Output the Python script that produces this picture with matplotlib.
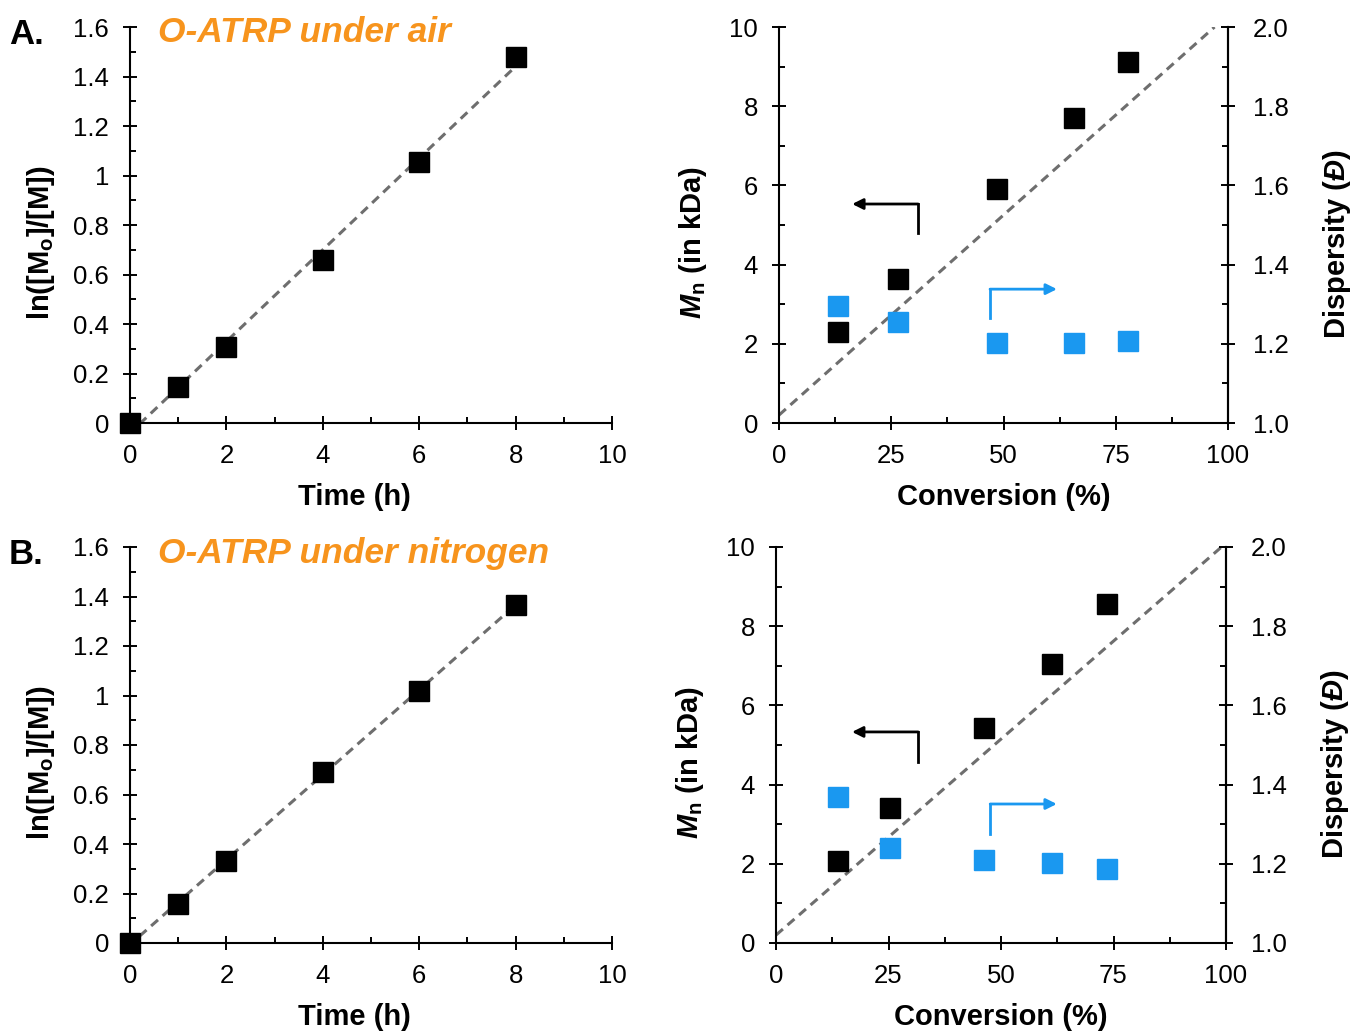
import numpy as np
import matplotlib
matplotlib.use("Agg")
import matplotlib.pyplot as plt
from matplotlib.ticker import MultipleLocator, FormatStrFormatter, FuncFormatter

plt.rcParams['font.family'] = ['Liberation Sans', 'DejaVu Sans']
plt.rcParams['mathtext.fontset'] = 'custom'
plt.rcParams['mathtext.rm'] = 'Liberation Sans'
plt.rcParams['mathtext.it'] = 'Liberation Sans:italic'
plt.rcParams['mathtext.bf'] = 'Liberation Sans:bold'
plt.rcParams['mathtext.bfit'] = 'Liberation Sans:bold:italic'

# ---------------- data ----------------
time_h = [0, 1, 2, 4, 6, 8]
ln_air = [0.0, 0.145, 0.307, 0.658, 1.054, 1.479]
ln_n2 = [0.0, 0.158, 0.331, 0.691, 1.018, 1.366]

conv_air = [13.1, 26.5, 48.6, 65.7, 77.7]
mn_air = [2.30, 3.64, 5.91, 7.70, 9.12]
disp_air = [1.295, 1.255, 1.202, 1.202, 1.207]

conv_n2 = [13.8, 25.3, 46.2, 61.3, 73.6]
mn_n2 = [2.07, 3.41, 5.43, 7.05, 8.56]
disp_n2 = [1.369, 1.240, 1.210, 1.202, 1.187]

theo_conv_air = [0, 97]
theo_mn_air = [0.2, 10.0]
theo_conv_n2 = [0, 99]
theo_mn_n2 = [0.2, 10.0]

titles = ["O-ATRP under air", "O-ATRP under nitrogen"]
letters = ["A.", "B."]

BLUE = '#1a98f0'
ORANGE = '#f7941d'
GRAY = '#6e6e6e'

TICK_FS = 18.5
LABEL_FS = 21

W, H = 1355, 1034
fig = plt.figure(figsize=(W / 100, H / 100), dpi=100)


def fr(x0, y0, x1, y1):
    return [x0 / W, 1 - y1 / H, (x1 - x0) / W, (y1 - y0) / H]


def style_ticks(ax):
    ax.tick_params(axis='both', which='major', direction='inout', length=10,
                   width=1.4, labelsize=TICK_FS, pad=10, color='black')
    ax.tick_params(axis='both', which='minor', direction='in', length=4.5,
                   width=1.4, color='black')
    for s in ax.spines.values():
        s.set_linewidth(1.5)


def kinetics(rect, t, y, title, letter, title_y):
    ax = fig.add_axes(fr(*rect))
    coef = np.polyfit(t, y, 1)
    xf = np.array([0.2, 8.0])
    ax.plot(xf, np.polyval(coef, xf), ls=(0, (3, 2)), color=GRAY, lw=2.2, zorder=1)
    ax.plot(t, y, 's', color='black', ms=14, clip_on=False, zorder=3)
    ax.set_xlim(0, 10)
    ax.set_ylim(0, 1.6)
    ax.xaxis.set_major_locator(MultipleLocator(2))
    ax.xaxis.set_minor_locator(MultipleLocator(1))
    ax.yaxis.set_major_locator(MultipleLocator(0.2))
    ax.yaxis.set_minor_locator(MultipleLocator(0.1))
    ax.yaxis.set_major_formatter(FuncFormatter(lambda v, p: ('%g' % round(v, 2))))
    ax.spines['top'].set_visible(False)
    ax.spines['right'].set_visible(False)
    style_ticks(ax)
    ax.set_xlabel('Time (h)', fontsize=LABEL_FS, fontweight='bold')
    ax.set_ylabel(r'ln([M$_\mathbf{o}$]/[M])', fontsize=LABEL_FS, fontweight='bold')
    ax.xaxis.set_label_coords(0.465, -0.152)
    ax.yaxis.set_label_coords(-0.152, 0.455)
    fig.text(158 / W, 1 - title_y / H, title, fontsize=25.5, fontweight='bold',
             style='italic', color=ORANGE, va='center', ha='left')
    fig.text(9 / W, 1 - (title_y + 2) / H, letter, fontsize=25, fontweight='bold',
             va='center', ha='left')
    return ax


def mn_panel(rect, conv, mn, disp, tc, tm, arr):
    ax = fig.add_axes(fr(*rect))
    ax2 = ax.twinx()
    ax.plot(tc, tm, ls=(0, (3, 2)), color=GRAY, lw=2.2, zorder=1)
    ax.plot(conv, mn, 's', color='black', ms=14, zorder=3)
    ax2.plot(conv, disp, 's', color=BLUE, ms=14, zorder=3)
    ax.set_xlim(0, 100)
    ax.set_ylim(0, 10)
    ax2.set_ylim(1.0, 2.0)
    ax.xaxis.set_major_locator(MultipleLocator(25))
    ax.xaxis.set_minor_locator(MultipleLocator(12.5))
    ax.yaxis.set_major_locator(MultipleLocator(2))
    ax.yaxis.set_minor_locator(MultipleLocator(1))
    ax2.yaxis.set_major_locator(MultipleLocator(0.2))
    ax2.yaxis.set_minor_locator(MultipleLocator(0.1))
    ax2.yaxis.set_major_formatter(FormatStrFormatter('%.1f'))
    for a in (ax, ax2):
        a.spines['top'].set_visible(False)
        style_ticks(a)
    ax2.tick_params(axis='y', which='major', pad=13)
    ax2.spines['left'].set_visible(False)
    ax2.spines['bottom'].set_visible(False)
    ax.set_xlabel('Conversion (%)', fontsize=LABEL_FS, fontweight='bold')
    ax.set_ylabel(r'$\mathbfit{M}_\mathbf{n}$ (in kDa)', fontsize=LABEL_FS, fontweight='bold')
    ax2.set_ylabel(r'Dispersity ($\mathbfit{Đ}$)', fontsize=LABEL_FS, fontweight='bold')
    ax.xaxis.set_label_coords(0.5, -0.152)
    ax.yaxis.set_label_coords(-0.156, 0.457)
    ax2.yaxis.set_label_coords(1.207, 0.452)
    (bx, by0, by1, btip), (ux, uy0, uy1, utip) = arr
    ax.plot([bx, bx], [by0, by1], color='black', lw=2, solid_capstyle='projecting')
    ax.annotate('', xy=(btip, by1), xytext=(bx, by1),
                arrowprops=dict(arrowstyle='-|>', color='black', lw=2,
                                mutation_scale=16, shrinkA=0, shrinkB=0))
    ax.plot([ux, ux], [uy0, uy1], color=BLUE, lw=2, solid_capstyle='projecting')
    ax.annotate('', xy=(utip, uy1), xytext=(ux, uy1),
                arrowprops=dict(arrowstyle='-|>', color=BLUE, lw=2,
                                mutation_scale=16, shrinkA=0, shrinkB=0))
    return ax, ax2


kinetics((130, 27, 612, 423), time_h, ln_air, titles[0], letters[0], 33)
kinetics((130, 547, 612, 943), time_h, ln_n2, titles[1], letters[1], 553)

arrows_air = ((31.0, 4.8, 5.53, 16.3), (47.0, 2.65, 3.38, 61.9))
arrows_n2 = ((31.6, 4.57, 5.33, 16.9), (47.6, 2.75, 3.51, 62.4))
mn_panel((779, 27, 1228, 423), conv_air, mn_air, disp_air, theo_conv_air, theo_mn_air, arrows_air)
mn_panel((776, 547, 1226, 943), conv_n2, mn_n2, disp_n2, theo_conv_n2, theo_mn_n2, arrows_n2)

fig.savefig('out.png', dpi=100)
